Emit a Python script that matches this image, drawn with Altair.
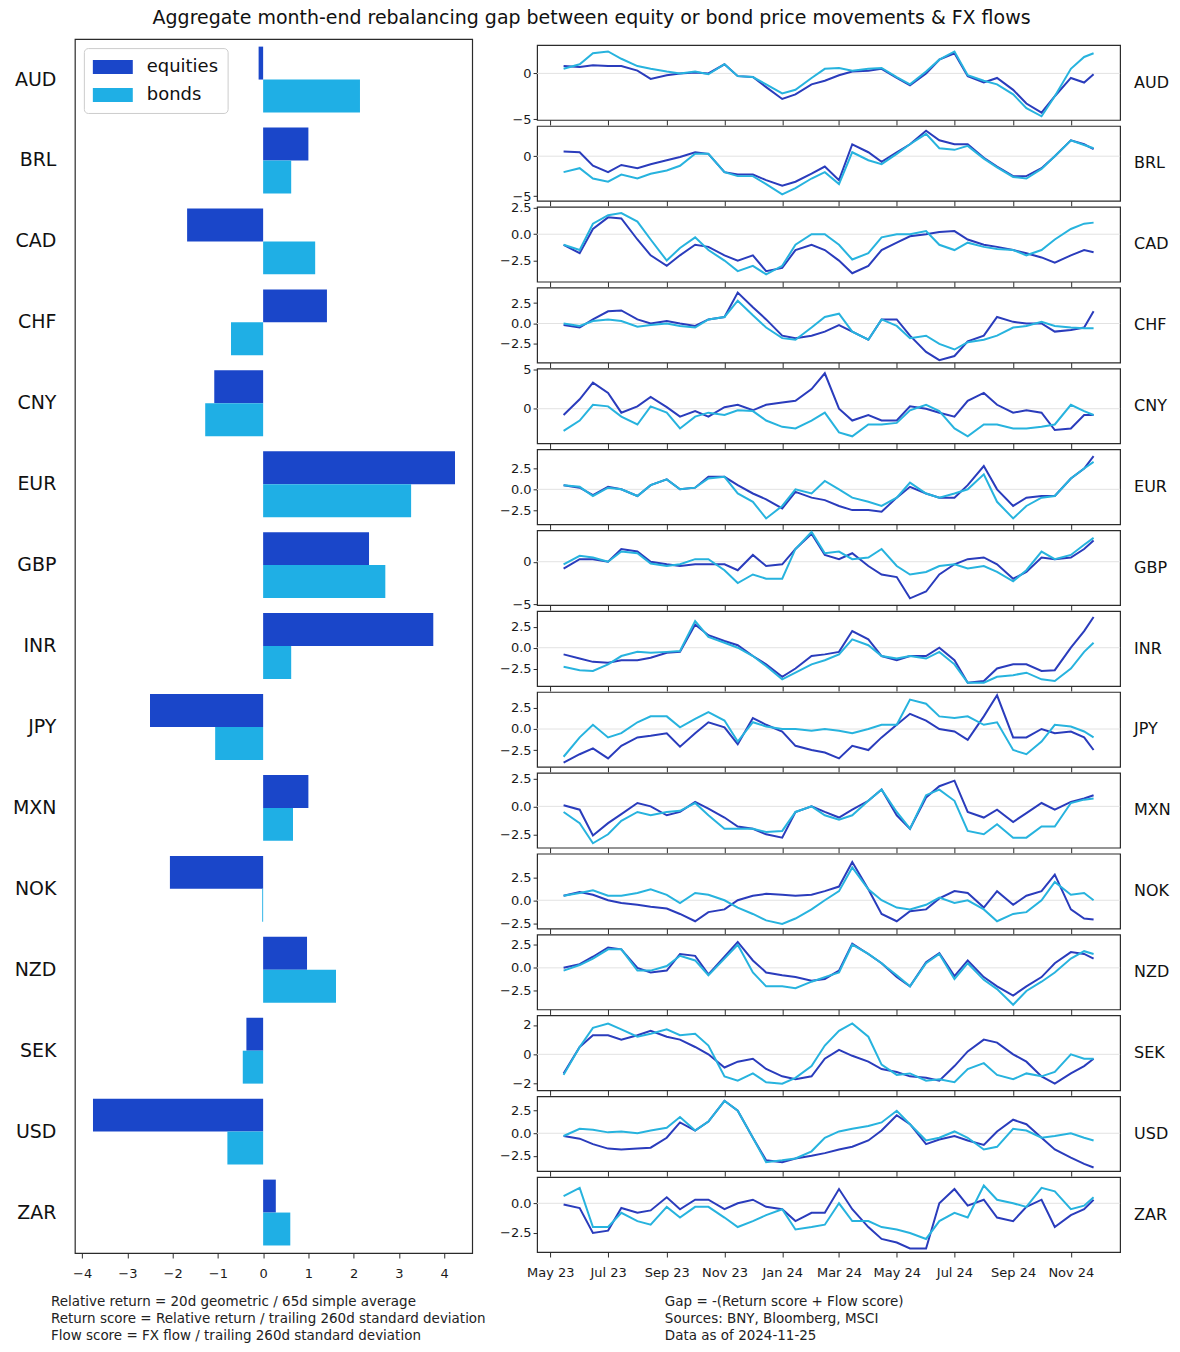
import altair as alt
import pandas as pd

CCYS = ["AUD", "BRL", "CAD", "CHF", "CNY", "EUR", "GBP", "INR", "JPY", "MXN", "NOK", "NZD", "SEK", "USD", "ZAR"]
SERIES = ["equities", "bonds"]
BAR_EQUITIES = [-0.10, 1.00, -1.68, 1.41, -1.08, 4.24, 2.34, 3.76, -2.50, 1.00, -2.06, 0.97, -0.37, -3.76, 0.28]
BAR_BONDS = [2.14, 0.62, 1.15, -0.71, -1.28, 3.27, 2.70, 0.62, -1.06, 0.66, -0.02, 1.61, -0.45, -0.79, 0.60]

DATES = ["2023-05-15", "2023-06-01", "2023-06-15", "2023-07-01", "2023-07-15", "2023-08-01", "2023-08-15",
         "2023-09-01", "2023-09-15", "2023-10-01", "2023-10-15", "2023-11-01", "2023-11-15", "2023-12-01",
         "2023-12-15", "2024-01-01", "2024-01-15", "2024-02-01", "2024-02-15", "2024-03-01", "2024-03-15",
         "2024-04-01", "2024-04-15", "2024-05-01", "2024-05-15", "2024-06-01", "2024-06-15", "2024-07-01",
         "2024-07-15", "2024-08-01", "2024-08-15", "2024-09-01", "2024-09-15", "2024-10-01", "2024-10-15",
         "2024-11-01", "2024-11-15", "2024-11-25"]

AUD_EQ = [0.8, 0.7, 0.9, 0.8, 0.8, 0.3, -0.6, -0.2, 0.0, 0.1, 0.0, 1.0, -0.3, -0.4, -1.5, -2.8, -2.3, -1.2, -0.8, -0.2, 0.2, 0.3, 0.5, -0.5, -1.3, 0.0, 1.5, 2.2, -0.3, -1.0, -0.5, -1.8, -3.3, -4.3, -2.5, -0.5, -1.0, -0.1]
AUD_BD = [0.5, 1.0, 2.2, 2.4, 1.6, 0.8, 0.5, 0.2, 0.0, 0.2, -0.1, 1.0, -0.3, -0.4, -1.2, -2.2, -1.8, -0.5, 0.5, 0.6, 0.3, 0.5, 0.6, -0.4, -1.2, 0.2, 1.5, 2.4, -0.2, -0.8, -1.2, -2.3, -3.8, -4.7, -2.5, 0.5, 1.8, 2.2]
BRL_EQ = [0.6, 0.5, -1.2, -2.0, -1.1, -1.5, -1.0, -0.5, -0.1, 0.5, 0.3, -2.0, -2.3, -2.3, -3.0, -3.7, -3.2, -2.2, -1.3, -3.0, 1.5, 0.5, -0.7, 0.5, 1.5, 3.2, 2.0, 1.5, 1.5, -0.2, -1.3, -2.5, -2.5, -1.5, 0.0, 2.0, 1.5, 0.9]
BRL_BD = [-2.0, -1.5, -2.8, -3.2, -2.3, -2.8, -2.2, -1.8, -1.2, 0.3, 0.3, -2.0, -2.5, -2.5, -3.5, -4.8, -4.0, -2.8, -2.0, -3.5, 0.5, -0.5, -1.0, 0.3, 1.5, 2.8, 1.0, 0.8, 1.3, -0.3, -1.4, -2.6, -2.8, -1.6, 0.0, 2.0, 1.4, 1.0]
CAD_EQ = [-1.0, -1.8, 0.5, 1.6, 1.5, -0.5, -2.0, -3.0, -2.0, -1.0, -1.2, -2.0, -2.5, -2.0, -3.5, -3.2, -1.5, -1.0, -1.5, -2.5, -3.7, -3.0, -1.5, -0.8, -0.2, 0.0, 0.2, 0.3, -0.5, -1.0, -1.2, -1.5, -1.8, -2.2, -2.7, -2.0, -1.5, -1.7]
CAD_BD = [-1.0, -1.5, 1.0, 1.8, 2.0, 1.2, -0.5, -2.5, -1.3, -0.3, -1.5, -2.5, -3.5, -3.0, -3.8, -3.0, -1.0, 0.0, 0.0, -1.0, -2.4, -1.8, -0.3, 0.0, 0.0, 0.3, -1.0, -1.5, -0.8, -1.2, -1.4, -1.5, -2.0, -1.5, -0.5, 0.5, 1.0, 1.1]
CHF_EQ = [-0.2, -0.5, 0.5, 1.5, 1.6, 0.5, 0.0, 0.3, 0.0, -0.3, 0.5, 0.8, 3.8, 2.0, 0.5, -1.5, -1.8, -1.5, -1.0, -0.2, -1.0, -2.0, 0.5, 0.5, -1.5, -3.5, -4.5, -4.0, -2.2, -1.5, 0.8, 0.2, 0.0, 0.0, -1.0, -0.8, -0.5, 1.5]
CHF_BD = [0.0, -0.3, 0.3, 0.5, 0.3, -0.4, -0.2, 0.0, -0.3, -0.5, 0.5, 0.8, 2.8, 1.0, -0.5, -1.8, -2.0, -0.5, 0.8, 1.2, -1.0, -2.0, 0.5, -0.3, -1.8, -1.5, -2.5, -3.2, -2.3, -2.0, -1.5, -0.5, -0.3, 0.2, -0.3, -0.5, -0.6, -0.6]
CNY_EQ = [-0.8, 1.2, 3.3, 2.0, -0.5, 0.3, 1.5, 0.2, -1.0, -0.3, -1.0, 0.2, 0.5, -0.2, 0.5, 0.8, 1.0, 2.5, 4.5, 0.0, -1.5, -0.8, -1.5, -1.5, 0.3, 0.0, -0.5, -1.0, 1.0, 2.0, 0.5, -0.5, -0.2, -0.5, -2.7, -2.5, -0.8, -0.8]
CNY_BD = [-2.8, -1.5, 0.5, 0.3, -1.0, -2.0, 0.3, -0.5, -2.5, -1.0, -0.5, -0.8, -0.2, -0.3, -1.5, -2.3, -2.5, -1.5, -0.5, -3.0, -3.5, -2.0, -2.0, -1.8, -0.2, 0.5, -0.3, -2.5, -3.5, -2.0, -2.0, -2.5, -2.5, -2.3, -2.0, 0.5, -0.3, -0.8]
EUR_EQ = [0.5, 0.2, -0.7, 0.3, 0.0, -0.8, 0.5, 1.2, 0.0, 0.2, 1.5, 1.5, 0.5, -0.5, -1.2, -2.3, -0.3, -1.0, -1.3, -2.0, -2.5, -2.5, -2.7, -1.0, 0.3, -0.5, -1.0, -1.0, 0.5, 2.8, 0.0, -2.0, -1.0, -0.8, -0.8, 1.3, 2.5, 4.0]
EUR_BD = [0.5, 0.3, -0.8, 0.2, 0.0, -0.8, 0.5, 1.2, 0.0, 0.2, 1.3, 1.5, -0.5, -1.5, -3.5, -2.0, 0.0, -0.5, 1.0, 0.0, -1.0, -1.5, -2.0, -1.0, 0.8, -0.5, -1.0, -0.5, 0.0, 1.8, -1.5, -3.5, -2.0, -1.0, -0.8, 1.3, 2.5, 3.3]
GBP_EQ = [-0.8, 0.3, 0.3, 0.0, 1.5, 1.2, 0.0, -0.3, -0.5, -0.3, -0.3, -0.3, -1.0, 0.8, -0.5, -0.3, 1.5, 3.3, 0.8, 0.3, 1.0, -0.5, -1.5, -1.8, -4.3, -3.5, -1.5, -0.3, 0.3, 0.5, -0.3, -2.0, -1.2, 0.5, 0.3, 0.5, 1.5, 2.5]
GBP_BD = [-0.3, 0.7, 0.5, 0.0, 1.2, 1.0, -0.2, -0.5, -0.3, 0.3, 0.3, -1.0, -2.5, -1.5, -2.0, -2.0, 1.5, 3.5, 1.0, 1.2, 0.3, 0.5, 1.5, -0.5, -1.5, -1.2, -0.5, -0.3, -0.8, -0.5, -1.2, -2.3, -1.0, 1.2, 0.3, 0.8, 2.0, 2.8]
INR_EQ = [-0.8, -1.3, -1.7, -1.8, -1.5, -1.5, -1.2, -0.6, -0.5, 2.8, 1.5, 0.8, 0.3, -1.0, -2.0, -3.5, -2.5, -1.0, -0.8, -0.5, 2.0, 1.0, -1.0, -1.5, -1.0, -1.0, 0.0, -1.5, -4.2, -4.0, -2.5, -2.0, -2.0, -2.8, -2.7, 0.0, 2.0, 3.7]
INR_BD = [-2.3, -2.7, -2.8, -2.0, -1.0, -0.5, -0.6, -0.5, -0.4, 3.2, 1.3, 0.6, 0.0, -1.0, -2.2, -3.8, -3.0, -2.0, -1.5, -0.8, 1.0, 0.3, -1.0, -1.3, -1.0, -1.3, -0.5, -2.0, -4.2, -4.2, -3.5, -3.3, -3.0, -3.8, -4.0, -2.5, -0.5, 0.6]
JPY_EQ = [-4.0, -3.0, -2.3, -3.5, -2.0, -1.0, -0.8, -0.5, -2.1, -0.5, 0.8, 0.2, -1.8, 1.3, 0.5, -0.3, -2.0, -2.5, -2.8, -3.5, -2.0, -2.5, -1.0, 0.5, 1.8, 1.0, 0.0, -0.3, -1.3, 1.5, 4.0, -1.0, -1.0, 0.0, -0.5, -0.3, -1.0, -2.5]
JPY_BD = [-3.3, -1.0, 0.5, -1.0, -0.5, 0.8, 1.5, 1.5, 0.2, 1.2, 2.0, 1.0, -1.5, 0.8, 0.3, 0.0, 0.0, -0.2, 0.0, -0.2, -0.5, 0.0, 0.5, 0.5, 3.5, 3.0, 1.5, 1.3, 1.5, 0.5, 0.8, -2.5, -3.0, -1.5, 0.5, 0.3, -0.3, -1.0]
MXN_EQ = [0.1, -0.3, -2.6, -1.5, -0.7, 0.3, 0.0, -0.8, -0.5, 0.4, -0.2, -1.0, -1.8, -2.0, -2.5, -2.8, -0.5, 0.0, -0.5, -1.0, -0.3, 0.5, 1.5, -0.8, -2.0, 0.8, 1.8, 2.3, -0.5, -1.0, -0.3, -1.4, -0.6, 0.3, -0.3, 0.4, 0.7, 1.0]
MXN_BD = [-0.5, -1.5, -3.3, -2.5, -1.3, -0.5, -0.8, -0.5, -0.4, 0.3, -0.8, -2.0, -2.0, -2.0, -2.3, -2.2, -0.5, 0.0, -0.8, -1.2, -0.8, 0.5, 1.5, -0.5, -2.0, 1.0, 1.5, 0.5, -2.2, -2.5, -1.6, -2.8, -2.8, -1.8, -1.8, 0.3, 0.6, 0.7]
NOK_EQ = [0.5, 0.9, 0.6, 0.0, -0.3, -0.5, -0.7, -0.9, -1.5, -2.3, -1.3, -1.0, 0.0, 0.5, 0.7, 0.6, 0.5, 0.6, 1.0, 1.5, 4.2, 1.2, -1.5, -2.3, -1.2, -1.0, 0.2, 1.0, 0.8, -0.8, 1.0, -0.5, 0.5, 1.0, 2.8, -1.0, -2.0, -2.1]
NOK_BD = [0.5, 0.8, 1.1, 0.5, 0.5, 0.8, 1.2, 0.6, -0.3, 0.8, 0.6, 0.0, -0.8, -1.5, -2.2, -2.6, -2.0, -1.0, 0.0, 1.0, 3.6, 1.2, 0.0, -0.8, -1.0, -0.5, 0.3, -0.3, 0.0, -1.0, -2.3, -1.5, -1.3, 0.0, 2.0, 0.6, 0.8, 0.0]
NZD_EQ = [0.0, 0.4, 1.2, 2.2, 2.0, 0.0, -0.5, -0.3, 1.5, 1.3, -0.7, 1.2, 2.8, 0.8, -0.5, -0.8, -1.0, -1.4, -1.2, -0.3, 2.6, 1.5, 0.5, -1.0, -2.0, 0.6, 1.6, -0.9, 0.8, -1.0, -2.0, -3.0, -2.0, -1.0, 0.5, 1.7, 1.5, 1.0]
NZD_BD = [-0.3, 0.3, 1.0, 2.0, 2.0, -0.3, -0.3, 0.2, 1.3, 0.8, -0.8, 1.0, 2.5, -0.5, -2.0, -2.0, -2.2, -1.5, -1.0, -0.5, 2.5, 1.5, 0.5, -0.8, -2.0, 0.5, 1.5, -1.2, 0.5, -1.3, -2.3, -4.0, -2.5, -1.5, -0.5, 1.0, 1.8, 1.5]
SEK_EQ = [-1.3, 0.5, 1.3, 1.3, 1.0, 1.3, 1.6, 1.2, 1.0, 0.5, 0.0, -0.9, -0.5, -0.3, -1.0, -1.5, -1.7, -1.5, -0.3, 0.3, -0.1, -0.5, -1.0, -1.2, -1.5, -1.6, -1.8, -0.8, 0.2, 1.0, 0.8, 0.0, -0.5, -1.5, -2.0, -1.3, -0.8, -0.3]
SEK_BD = [-1.4, 0.5, 1.8, 2.1, 1.7, 1.2, 1.4, 1.7, 1.3, 1.4, 0.6, -1.5, -1.8, -1.3, -1.9, -2.0, -1.6, -0.8, 0.6, 1.6, 2.1, 1.2, -0.7, -1.4, -1.3, -1.8, -1.7, -1.9, -1.0, -0.6, -1.4, -1.7, -1.3, -1.5, -1.2, 0.0, -0.3, -0.3]
USD_EQ = [-0.3, -0.6, -1.2, -1.7, -1.8, -1.7, -1.6, -0.5, 1.2, 0.3, 1.3, 3.6, 2.5, -0.5, -3.0, -3.2, -2.8, -2.5, -2.2, -1.8, -1.5, -0.8, 0.3, 2.0, 1.0, -1.2, -0.7, -0.3, -0.8, -1.3, 0.2, 1.5, 1.0, -0.5, -1.8, -2.7, -3.4, -3.8]
USD_BD = [-0.3, 0.5, 0.4, 0.1, 0.2, 0.0, 0.3, 0.6, 1.8, 0.3, 1.3, 3.6, 2.5, -0.5, -3.2, -3.0, -2.8, -2.0, -0.5, 0.2, 0.5, 0.8, 1.2, 2.5, 1.0, -0.8, -0.5, 0.2, -0.5, -1.8, -1.5, 0.5, 0.3, -0.5, -0.3, 0.0, -0.5, -0.8]
ZAR_EQ = [-0.1, -0.4, -2.5, -2.3, -0.4, -0.8, -0.6, 0.5, -0.5, 0.3, 0.3, -0.5, 0.0, 0.3, -0.3, -0.5, -1.5, -0.8, -0.8, 1.2, -0.5, -2.0, -3.0, -3.3, -3.8, -3.8, 0.0, 1.2, -0.2, 0.3, -1.2, -1.5, -0.3, 0.3, -2.0, -1.0, -0.5, 0.3]
ZAR_BD = [0.6, 1.3, -2.0, -2.0, -0.8, -1.5, -1.8, -0.3, -1.2, -0.3, -0.3, -1.2, -2.0, -1.5, -1.0, -0.5, -2.2, -2.0, -1.8, 0.0, -1.5, -1.5, -2.0, -2.2, -2.5, -3.0, -1.5, -0.8, -1.2, 1.5, 0.3, 0.0, -0.3, 1.3, 1.0, -0.5, -0.2, 0.5]

GAP_EQ = {"AUD": AUD_EQ, "BRL": BRL_EQ, "CAD": CAD_EQ, "CHF": CHF_EQ, "CNY": CNY_EQ, "EUR": EUR_EQ,
          "GBP": GBP_EQ, "INR": INR_EQ, "JPY": JPY_EQ, "MXN": MXN_EQ, "NOK": NOK_EQ, "NZD": NZD_EQ,
          "SEK": SEK_EQ, "USD": USD_EQ, "ZAR": ZAR_EQ}
GAP_BD = {"AUD": AUD_BD, "BRL": BRL_BD, "CAD": CAD_BD, "CHF": CHF_BD, "CNY": CNY_BD, "EUR": EUR_BD,
          "GBP": GBP_BD, "INR": INR_BD, "JPY": JPY_BD, "MXN": MXN_BD, "NOK": NOK_BD, "NZD": NZD_BD,
          "SEK": SEK_BD, "USD": USD_BD, "ZAR": ZAR_BD}

# per-panel y axis: domain and tick labels
PANEL_Y = {
    "AUD": ([-5.1, 3.1], [0, -5], "d"),
    "BRL": ([-5.6, 3.8], [0, -5], "d"),
    "CAD": ([-4.5, 2.6], [2.5, 0, -2.5], ".1f"),
    "CHF": ([-4.8, 4.4], [2.5, 0, -2.5], ".1f"),
    "CNY": ([-4.4, 5.1], [5, 0], "d"),
    "EUR": ([-4.2, 4.8], [2.5, 0, -2.5], ".1f"),
    "GBP": ([-5.1, 3.7], [0, -5], "d"),
    "INR": ([-4.6, 4.4], [2.5, 0, -2.5], ".1f"),
    "JPY": ([-4.5, 4.4], [2.5, 0, -2.5], ".1f"),
    "MXN": ([-3.7, 3.0], [2.5, 0, -2.5], ".1f"),
    "NOK": ([-3.1, 5.1], [2.5, 0, -2.5], ".1f"),
    "NZD": ([-4.5, 3.6], [2.5, 0, -2.5], ".1f"),
    "SEK": ([-2.45, 2.65], [2, 0, -2], "d"),
    "USD": ([-4.2, 4.1], [2.5, 0, -2.5], ".1f"),
    "ZAR": ([-4.1, 2.2], [0, -2.5], ".1f"),
}

TITLE = "Aggregate month-end rebalancing gap between equity or bond price movements & FX flows"
FOOT_LEFT = ["Relative return = 20d geometric / 65d simple average",
             "Return score = Relative return / trailing 260d standard deviation",
             "Flow score = FX flow / trailing 260d standard deviation"]
FOOT_RIGHT = ["Gap = -(Return score + Flow score)",
              "Sources:  BNY, Bloomberg, MSCI",
              "Data as of 2024-11-25"]

for c in CCYS:
    assert len(GAP_EQ[c]) == len(DATES), (c, "eq", len(GAP_EQ[c]))
    assert len(GAP_BD[c]) == len(DATES), (c, "bd", len(GAP_BD[c]))

EQ_BAR, BD_BAR = "#1a46c9", "#1fafe5"
EQ_LINE, BD_LINE = "#2a3cbc", "#27b3de"
FONT = "DejaVu Sans"
AX_FS = 13

# ---------------- left: bar chart ----------------
rows = []
for c, e, b in zip(CCYS, BAR_EQUITIES, BAR_BONDS):
    rows.append({"ccy": c, "series": "equities", "value": e})
    rows.append({"ccy": c, "series": "bonds", "value": b})
bar_df = pd.DataFrame(rows)
one = pd.DataFrame({"k": [0]})

W_L, H_L = 398, 1216
bars = alt.Chart(bar_df).mark_bar().encode(
    y=alt.Y("ccy:N", sort=CCYS, scale=alt.Scale(paddingInner=0.186, paddingOuter=0.093),
            axis=alt.Axis(title=None, ticks=False, domain=False, labelFontSize=19, labelPadding=19,
                          labelColor="#111111")),
    yOffset=alt.YOffset("series:N", sort=SERIES),
    x=alt.X("value:Q", scale=alt.Scale(domain=[-4.16, 4.62], nice=False),
            axis=alt.Axis(title=None, values=[-4, -3, -2, -1, 0, 1, 2, 3, 4], format="d", tickSize=5,
                          labelFontSize=AX_FS, labelPadding=9.5, domain=False, grid=False)),
    color=alt.Color("series:N", sort=SERIES,
                    scale=alt.Scale(domain=SERIES, range=[EQ_BAR, BD_BAR]),
                    legend=alt.Legend(title=None, orient="none", legendX=9, legendY=9,
                                      symbolType="M-1,-0.7H3V0.7H-1Z", symbolSize=400,
                                      symbolStrokeWidth=0, symbolOpacity=1,
                                      labelFontSize=18, labelOffset=34, rowPadding=9,
                                      padding=9, strokeColor="#cccccc", cornerRadius=4,
                                      fillColor="white", labelColor="#111111", labelFont=FONT)),
)
foot_l = alt.Chart(one).mark_text(align="left", baseline="middle", fontSize=13.5, lineHeight=17,
                                  color="#222222", font=FONT).encode(
    x=alt.value(-24), y=alt.value(1265), text=alt.value(FOOT_LEFT))
left = alt.layer(bars, foot_l).properties(width=W_L, height=H_L)

# ---------------- right: small multiples ----------------
W_R, H_R = 584, 75
XDOM = [alt.DateTime(year=2023, month=4, date=17), alt.DateTime(year=2024, month=12, date=23)]
XTICKS = [alt.DateTime(year=y, month=m, date=1) for (y, m) in
          [(2023, 5), (2023, 7), (2023, 9), (2023, 11), (2024, 1), (2024, 3), (2024, 5), (2024, 7), (2024, 9), (2024, 11)]]
DATES_TS = [d + "T00:00:00" for d in DATES]


def panel(i, c):
    last = i == len(CCYS) - 1
    df = pd.DataFrame({"date": DATES_TS, "equities": GAP_EQ[c], "bonds": GAP_BD[c]})
    dom, ticks, fmt = PANEL_Y[c]
    yscale = alt.Scale(domain=dom, nice=False, zero=False)
    xscale = alt.Scale(domain=XDOM)
    xaxis = alt.Axis(title=None, values=XTICKS, format="%b %y", labels=last, tickSize=5,
                     labelFontSize=AX_FS, labelPadding=9.5, grid=False, domain=False)
    yaxis = alt.Axis(title=None, values=ticks, format=fmt, tickSize=4, labelFontSize=AX_FS,
                     labelPadding=2, grid=False, domain=False)
    base = alt.Chart(df)
    zero = alt.Chart(one).mark_rule(color="#e2e2e2", strokeWidth=1).encode(
        y=alt.YDatum(0, scale=yscale, axis=yaxis))
    eq = base.mark_line(color=EQ_LINE, strokeWidth=2, clip=True).encode(
        x=alt.X("date:T", scale=xscale, axis=xaxis),
        y=alt.Y("equities:Q", scale=yscale, axis=yaxis))
    bd = base.mark_line(color=BD_LINE, strokeWidth=2, clip=True).encode(
        x=alt.X("date:T", scale=xscale, axis=xaxis),
        y=alt.Y("bonds:Q", scale=yscale, axis=yaxis))
    lab = alt.Chart(one).mark_text(align="left", baseline="middle", fontSize=16, color="#111111",
                                   font=FONT).encode(
        x=alt.value(W_R + 14), y=alt.value(H_R / 2), text=alt.value(c))
    layers = [zero, eq, bd, lab]
    if last:
        foot_r = alt.Chart(one).mark_text(align="left", baseline="middle", fontSize=13.5, lineHeight=17,
                                          color="#222222", font=FONT).encode(
            x=alt.value(128), y=alt.value(125), text=alt.value(FOOT_RIGHT))
        layers.append(foot_r)
    return alt.layer(*layers).properties(width=W_R, height=H_R)


panels = alt.vconcat(*[panel(i, c) for i, c in enumerate(CCYS)], spacing=6, bounds="flush")
dummy = alt.Chart(one).mark_point(opacity=0).encode(x=alt.value(0), y=alt.value(0)).properties(
    width=1, height=1, view=alt.ViewBackground(strokeOpacity=0, strokeWidth=0))
right = alt.vconcat(dummy, panels, spacing=5, bounds="flush")

chart = alt.hconcat(left, right, spacing=65, bounds="flush").properties(
    title=alt.TitleParams(TITLE, fontSize=19, font=FONT, fontWeight="normal", color="#111111",
                          anchor="middle", offset=0, dy=-8),
    padding={"left": 3, "top": 0, "right": 0, "bottom": 0},
    background="white",
).configure(font=FONT).configure_view(
    stroke="#2b2b2b", strokeWidth=1.2
).configure_axis(
    labelFont=FONT, labelColor="#1a1a1a", tickColor="#2b2b2b", tickWidth=1
)

chart.save("out.html", embed_options={"renderer": "svg", "actions": False})
